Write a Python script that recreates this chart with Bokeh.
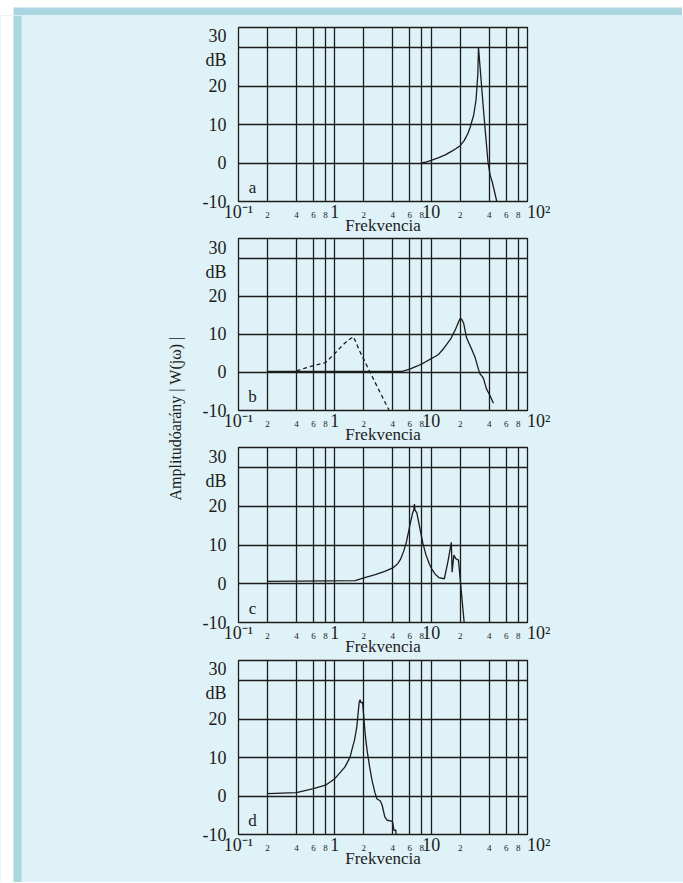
from bokeh.plotting import figure
from bokeh.models import Range1d, FixedTicker, Label, LogAxis
from bokeh.layouts import column, row
from bokeh.embed import file_html
from bokeh.resources import INLINE
import math

# ---------------- data ----------------
major_ticks = [0.1, 1, 10, 100]
major_labels = ["10\u207b\u00b9", "1", "10", "\u00a0\u00a0\u00a0\u00a0\u00a010\u00b2"]
minor_ticks = [0.2, 0.4, 0.6, 0.8, 2, 4, 6, 8, 20, 40, 60, 80]
minor_labels = ["2", "4", "6", "8", "2", "4", "6", "8", "2", "4", "6", "8"]
grid_x = [0.2, 0.4, 0.6, 0.8, 1, 2, 4, 6, 8, 10, 20, 40, 60, 80]
y_ticks = [-10, 0, 10, 20, 30]
y_labels = ["-10", "0", "10", "20", "30\ndB"]
grid_y = [0, 10, 20, 30]

a_x = [8, 9, 10, 12, 14, 16.4, 18, 20, 22, 24, 25.4, 27.6, 29.2, 30.5, 31,
       33, 35, 37, 39, 41, 43.3, 48]
a_y = [0, 0.3, 0.7, 1.4, 2.1, 3.1, 3.7, 4.5, 5.8, 7.6, 9.3, 12.4, 16.3, 23, 30,
       21.5, 13.5, 6.5, 0, -3.2, -5.2, -10]

b_x = [0.2, 5.0, 6, 7.2, 8.5, 9.8, 11, 12, 13.5, 15, 16.2, 18, 19.5, 20, 20.7,
       21.7, 23.3, 26, 28.6, 31, 32.2, 34, 35, 37.5, 41, 44.3]
b_y = [0.3, 0.3, 0.9, 1.7, 2.6, 3.5, 4.2, 4.8, 6.3, 7.9, 9.1, 11.5, 13.6, 14.2, 14,
       13, 9.1, 6.4, 3.9, 0.8, -0.4, -1.1, -1.7, -4.3, -6.2, -8.1]

bd_x = [0.4, 0.5, 0.6, 0.8, 1.0, 1.23, 1.4, 1.56, 1.82, 1.99, 2.58, 3.36, 3.67]
bd_y = [0.4, 1.2, 1.8, 2.6, 5.0, 7.4, 8.6, 9.4, 5.5, 3.5, -2.3, -8.1, -10]

c_x = [0.2, 1.63, 2.0, 2.58, 3.3, 4.0, 4.5, 4.8, 5.2, 5.56, 6.0, 6.4, 6.6, 6.7,
       6.8, 7.1, 7.6, 8.2, 8.8, 9.5, 10.2, 11, 12, 13.7, 15, 16.2, 16.5, 17.2,
       18, 19.2, 22]
c_y = [0.6, 0.8, 1.5, 2.3, 3.2, 4.1, 5.2, 6.3, 8.5, 11, 15, 18.2, 19, 20.6,
       19, 18.3, 14.6, 10.5, 7.6, 5.3, 3.7, 2.5, 1.6, 1.3, 6, 10.7, 3.0, 7.4,
       6.5, 6.1, -10]

d_x = [0.2, 0.4, 0.6, 0.8, 1.0, 1.27, 1.44, 1.5, 1.6, 1.69, 1.79, 1.83, 1.87,
       1.94, 2.0, 2.07, 2.16, 2.3, 2.43, 2.6, 2.73, 2.97, 3.1, 3.3, 3.5, 3.9,
       4.0, 4.1, 4.3, 4.32]
d_y = [0.6, 0.9, 1.9, 2.8, 4.5, 7.5, 10.1, 11.9, 14.5, 17.9, 24.4, 25, 24.2,
       24.4, 20.5, 15.8, 11.9, 7.5, 4.1, 1.0, -0.7, -1.3, -2.4, -5.4, -6.3, -6.5,
       -7, -8.9, -8.9, -10]

panel_letters = ["a", "b", "c", "d"]
x_title = "Frekvencia"
y_title = "Amplitud\u00f3ar\u00e1ny | W(j\u03c9) |"

# ---------------- style ----------------
LIGHT = "#dff2f7"
DARK = "#aad6e2"
INK = "#1c1c1c"
FONT = "Liberation Serif"
Y0, Y1 = -10, 35.2


def panel(height, top, bottom, letter, series):
    frame_h = height - top - bottom
    dppx = (Y1 - Y0) / frame_h
    p = figure(width=488, height=height, x_axis_type="log",
               x_range=Range1d(0.1, 100), y_range=Range1d(Y0, Y1),
               output_backend="svg", toolbar_location=None,
               min_border_left=43, min_border_right=156,
               min_border_top=top, min_border_bottom=bottom,
               background_fill_color=LIGHT, border_fill_color=LIGHT)
    p.outline_line_color = INK
    p.outline_line_width = 1.3
    p.outline_line_alpha = 1.0
    # grids
    p.xgrid.ticker = FixedTicker(ticks=grid_x)
    p.ygrid.ticker = FixedTicker(ticks=grid_y)
    for g in (p.xgrid, p.ygrid):
        g.grid_line_color = INK
        g.grid_line_width = 1.3
        g.grid_line_alpha = 1.0
    # x axis with the big decade labels (next to the frame)
    ax = p.xaxis[0]
    ax.ticker = FixedTicker(ticks=major_ticks)
    ax.major_label_overrides = {t: l for t, l in zip(major_ticks, major_labels)}
    ax.major_label_text_font = FONT
    ax.major_label_text_font_size = "18px"
    ax.major_label_text_color = INK
    ax.major_label_standoff = 0
    ax.axis_line_color = None
    ax.major_tick_line_color = None
    ax.minor_tick_line_color = None
    ax.major_tick_out = 0
    ax.major_tick_in = 0
    ax.minor_tick_out = 0
    ax.minor_tick_in = 0
    # second x axis with the small 2/4/6/8 labels, pulled up beside the big ones
    axb = LogAxis(ticker=FixedTicker(ticks=minor_ticks),
                  major_label_overrides={t: l for t, l in zip(minor_ticks, minor_labels)},
                  major_label_text_font=FONT, major_label_text_font_size="9px",
                  major_label_text_color=INK, major_label_standoff=-13,
                  axis_line_color=None, major_tick_line_color=None,
                  minor_tick_line_color=None, major_tick_out=0, major_tick_in=0,
                  minor_tick_out=0, minor_tick_in=0,
                  axis_label=x_title, axis_label_text_font=FONT,
                  axis_label_text_font_size="17px", axis_label_text_color=INK,
                  axis_label_text_font_style="normal", axis_label_standoff=-5)
    p.add_layout(axb, "below")
    # y axis
    ay = p.yaxis[0]
    ay.ticker = FixedTicker(ticks=y_ticks)
    ay.major_label_overrides = {t: l for t, l in zip(y_ticks, y_labels)}
    ay.major_label_text_font = FONT
    ay.major_label_text_font_size = "18px"
    ay.major_label_text_color = INK
    ay.major_label_standoff = 12
    ay.axis_line_color = None
    ay.major_tick_line_color = None
    ay.minor_tick_line_color = None
    ay.major_tick_out = 0
    ay.major_tick_in = 0
    ay.minor_tick_out = 0
    ay.minor_tick_in = 0
    # panel letter
    p.add_layout(Label(x=0.14, y=Y0 + 14 * dppx, text=letter, text_font=FONT,
                       text_font_size="17px", text_color=INK,
                       text_align="center", text_baseline="alphabetic"))
    for xs, ys, dash in series:
        p.line(xs, ys, line_color=INK, line_width=1.3, line_dash=dash)
    return p


pa = panel(222, 12, 36, panel_letters[0], [(a_x, a_y, "solid")])
pb = panel(209, 1, 36, panel_letters[1], [(b_x, b_y, "solid"), (bd_x, bd_y, "4 3")])
pc = panel(212, 1, 36, panel_letters[2], [(c_x, c_y, "solid")])
pd = panel(224, 2, 48, panel_letters[3], [(d_x, d_y, "solid")])

W = 682
# top band
top = figure(width=W, height=15, x_range=Range1d(0, W), y_range=Range1d(15, 0),
             output_backend="svg", toolbar_location=None, min_border=0,
             background_fill_color="white", border_fill_color="white")
top.axis.visible = False
top.grid.visible = False
top.outline_line_color = None
top.quad(left=13, right=W, top=7, bottom=15, fill_color=DARK, line_color=None)

# left column with rotated title
LH = 867
left = figure(width=195, height=LH, x_range=Range1d(0, 195), y_range=Range1d(LH, 0),
              output_backend="svg", toolbar_location=None, min_border=0,
              background_fill_color=LIGHT, border_fill_color=LIGHT)
left.axis.visible = False
left.grid.visible = False
left.outline_line_color = None
left.quad(left=0, right=13, bottom=LH, top=0, fill_color="white", line_color=None)
left.quad(left=13, right=21, bottom=LH, top=0, fill_color=DARK, line_color=None)
left.add_layout(Label(x=175, y=403, text=y_title, angle=math.pi / 2,
                      text_font=FONT, text_font_size="16px", text_color=INK,
                      text_align="center", text_baseline="middle"))

panels = column(pa, pb, pc, pd, styles={"background-color": LIGHT})
layout = column(top, row(left, panels, styles={"background-color": LIGHT}))

open("out.html", "w").write(file_html(layout, INLINE))
